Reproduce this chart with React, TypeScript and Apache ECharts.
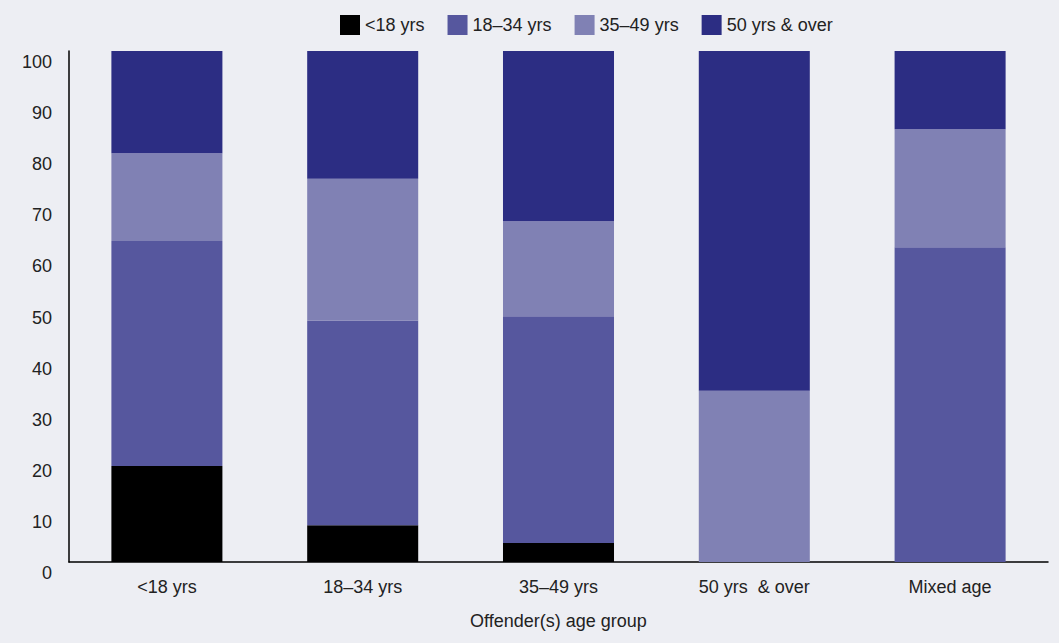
import React, { useEffect, useRef } from "react";
import * as echarts from "echarts";

const categories = ["<18 yrs", "18–34 yrs", "35–49 yrs", "50 yrs  & over", "Mixed age"];
const seriesNames = ["<18 yrs", "18–34 yrs", "35–49 yrs", "50 yrs & over"];
const under18 = [18.8, 7.2, 3.7, 0, 0];
const age18to34 = [44.0, 40.0, 44.4, 0, 61.6];
const age35to49 = [17.2, 27.8, 18.6, 33.5, 23.1];
const age50plus = [20.0, 25.0, 33.3, 66.5, 15.3];
const yTicks = [0, 10, 20, 30, 40, 50, 60, 70, 80, 90, 100];

const colors = ["#000000", "#56579E", "#8081B4", "#2C2D83"];
const FONT = "'Liberation Sans Narrow', 'Liberation Sans', Arial, sans-serif";

export default function App() {
  const ref = useRef<HTMLDivElement>(null);
  useEffect(() => {
    if (!ref.current) return;
    const chart = echarts.init(ref.current, null, { renderer: "svg" });
    const data = [under18, age18to34, age35to49, age50plus];
    chart.setOption({
      animation: false,
      backgroundColor: "#EDEEF3",
      textStyle: { fontFamily: FONT },
      legend: {
        top: 10,
        left: 335,
        itemWidth: 20,
        itemHeight: 20,
        itemGap: 23,
        icon: "rect",
        textStyle: { fontFamily: FONT, fontSize: 18, color: "#222" },
        data: seriesNames,
      },
      grid: { left: 69, right: 11, top: 51, bottom: 81 },
      xAxis: {
        type: "category",
        data: categories,
        name: "Offender(s) age group",
        nameLocation: "middle",
        nameGap: 50,
        nameTextStyle: { fontFamily: FONT, fontSize: 18, color: "#222" },
        axisLine: { lineStyle: { color: "#000", width: 1.5 } },
        axisTick: { show: false },
        axisLabel: { fontFamily: FONT, fontSize: 18, color: "#222", margin: 16 },
      },
      yAxis: {
        type: "value",
        min: yTicks[0],
        max: yTicks[yTicks.length - 1],
        interval: 10,
        splitLine: { show: false },
        axisLine: { show: true, lineStyle: { color: "#000", width: 1.5 } },
        axisTick: { show: false },
        axisLabel: {
          fontFamily: FONT,
          fontSize: 18,
          color: "#222",
          margin: 17,
          verticalAlign: "top",
          padding: [2, 0, 0, 0],
        },
      },
      series: seriesNames.map((name, i) => ({
        name,
        type: "bar",
        stack: "total",
        barWidth: "56.7%",
        itemStyle: { color: colors[i] },
        data: data[i],
      })),
    });
    return () => chart.dispose();
  }, []);
  return (
    <div
      ref={ref}
      style={{ position: "fixed", left: 0, top: 0, width: 1059, height: 643 }}
    />
  );
}
